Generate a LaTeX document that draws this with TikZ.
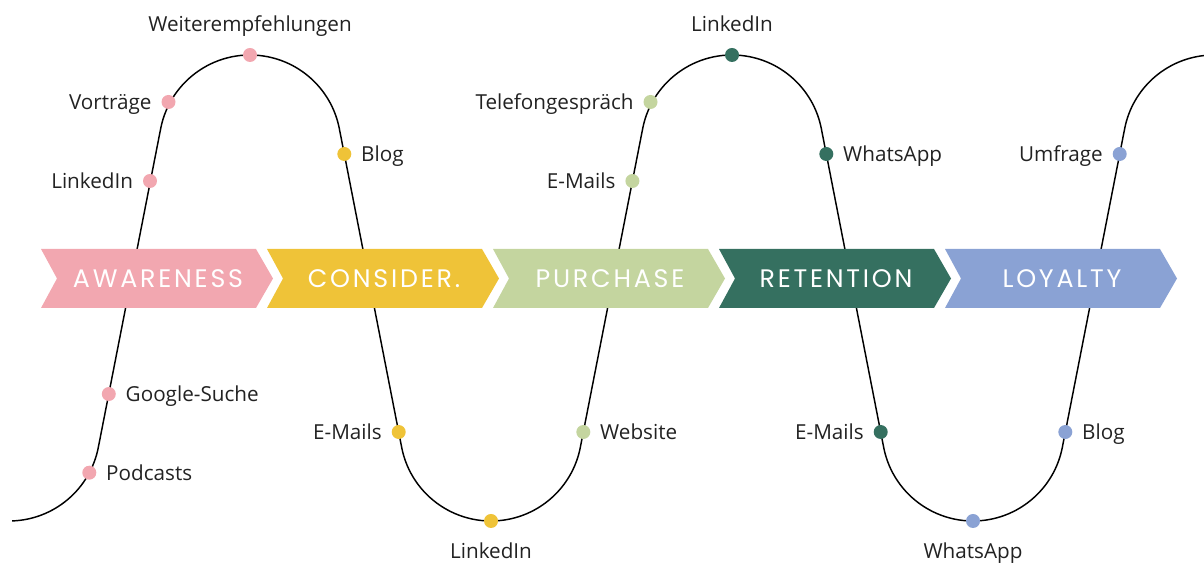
\documentclass[tikz,border=0pt]{standalone}
\usepackage{fontspec}
\setmainfont{Open Sans}
\newfontfamily\bannerfont{Poppins}[LetterSpace=11]
\definecolor{awareC}{HTML}{F2A7B0}
\definecolor{considerC}{HTML}{EFC338}
\definecolor{purchaseC}{HTML}{C4D59F}
\definecolor{retentionC}{HTML}{357060}
\definecolor{loyaltyC}{HTML}{8AA2D4}
\definecolor{labelC}{HTML}{222222}
\begin{document}
\begin{tikzpicture}[x=0.75pt,y=0.75pt,
  curve/.style={line width=1.1pt, black},
  spot/.style={circle, inner sep=0pt, minimum size=10.5pt, fill=#1},
  lbl/.style={font=\fontsize{15.5}{18}\selectfont, text=labelC, inner sep=0pt,
              text height=11.1pt, text depth=0pt},
  bannertext/.style={font=\bannerfont\fontsize{19}{21}\selectfont, text=white, inner sep=0pt}]
\useasboundingbox (0,0) rectangle (1204,563);

% wavy journey line: arcs of radius 91 joined by straight slopes
\draw[curve]
  ([shift={(272:91)}]9,133) arc[start angle=272, end angle=348.94, radius=91]
  -- ([shift={(168.94:91)}]250,417) arc[start angle=168.94, end angle=11.06, radius=91]
  -- ([shift={(191.06:91)}]491,133) arc[start angle=191.06, end angle=348.94, radius=91]
  -- ([shift={(168.94:91)}]732,417) arc[start angle=168.94, end angle=11.06, radius=91]
  -- ([shift={(191.06:91)}]973,133) arc[start angle=191.06, end angle=348.94, radius=91]
  -- ([shift={(168.94:91)}]1214,417) arc[start angle=168.94, end angle=96, radius=91];

% phase chevrons
\newcommand\phasechevron[4]{%
  \fill[#2] (#1,314) -- ++(215,0) -- ++(17,-29.5) -- ++(-17,-29.5) -- ++(-215,0)
            -- ++(16,29.5) -- cycle;
  \node[bannertext] (#4) at (#1+117,284.5) {#3};}
\phasechevron{41}{awareC}{AWARENESS}{pAware}
\phasechevron{267}{considerC}{CONSIDER.}{pConsider}
\phasechevron{493}{purchaseC}{PURCHASE}{pPurchase}
\phasechevron{719}{retentionC}{RETENTION}{pRetention}
\phasechevron{945}{loyaltyC}{LOYALTY}{pLoyalty}

% touchpoints
\node[spot=awareC] (d1) at (89.3,90.3) {};
\node[spot=awareC] (d2) at (108.8,169) {};
\node[spot=awareC] (d3) at (150,382) {};
\node[spot=awareC] (d4) at (168.5,461) {};
\node[spot=awareC] (d5) at (250,508) {};
\node[spot=considerC] (d6) at (344.3,409) {};
\node[spot=considerC] (d7) at (398.7,131) {};
\node[spot=considerC] (d8) at (491,42) {};
\node[spot=purchaseC] (d9) at (583.3,131) {};
\node[spot=purchaseC] (d10) at (632.4,382) {};
\node[spot=purchaseC] (d11) at (650.5,461) {};
\node[spot=retentionC] (d12) at (732,508) {};
\node[spot=retentionC] (d13) at (826.3,409) {};
\node[spot=retentionC] (d14) at (880.7,131) {};
\node[spot=loyaltyC] (d15) at (973,42) {};
\node[spot=loyaltyC] (d16) at (1065.3,131) {};
\node[spot=loyaltyC] (d17) at (1119.7,409) {};

% touchpoint labels
\node[lbl, anchor=west] (t1) at ([xshift=12.5pt]d1.center) {Podcasts};
\node[lbl, anchor=west] (t2) at ([xshift=12.5pt]d2.center) {Google-Suche};
\node[lbl, anchor=east] (t3) at ([xshift=-12.5pt]d3.center) {LinkedIn};
\node[lbl, anchor=east] (t4) at ([xshift=-12.5pt]d4.center) {Vorträge};
\node[lbl, anchor=south] (t5) at ([yshift=17.25pt]d5.center) {Weiterempfehlungen};
\node[lbl, anchor=west] (t6) at ([xshift=12.5pt]d6.center) {Blog};
\node[lbl, anchor=east] (t7) at ([xshift=-12.5pt]d7.center) {E-Mails};
\node[lbl, anchor=north] (t8) at ([yshift=-16.5pt]d8.center) {LinkedIn};
\node[lbl, anchor=west] (t9) at ([xshift=12.5pt]d9.center) {Website};
\node[lbl, anchor=east] (t10) at ([xshift=-12.5pt]d10.center) {E-Mails};
\node[lbl, anchor=east] (t11) at ([xshift=-12.5pt]d11.center) {Telefongespräch};
\node[lbl, anchor=south] (t12) at ([yshift=17.25pt]d12.center) {LinkedIn};
\node[lbl, anchor=west] (t13) at ([xshift=12.5pt]d13.center) {WhatsApp};
\node[lbl, anchor=east] (t14) at ([xshift=-12.5pt]d14.center) {E-Mails};
\node[lbl, anchor=north] (t15) at ([yshift=-16.5pt]d15.center) {WhatsApp};
\node[lbl, anchor=west] (t16) at ([xshift=12.5pt]d16.center) {Blog};
\node[lbl, anchor=east] (t17) at ([xshift=-12.5pt]d17.center) {Umfrage};
\end{tikzpicture}
\end{document}
